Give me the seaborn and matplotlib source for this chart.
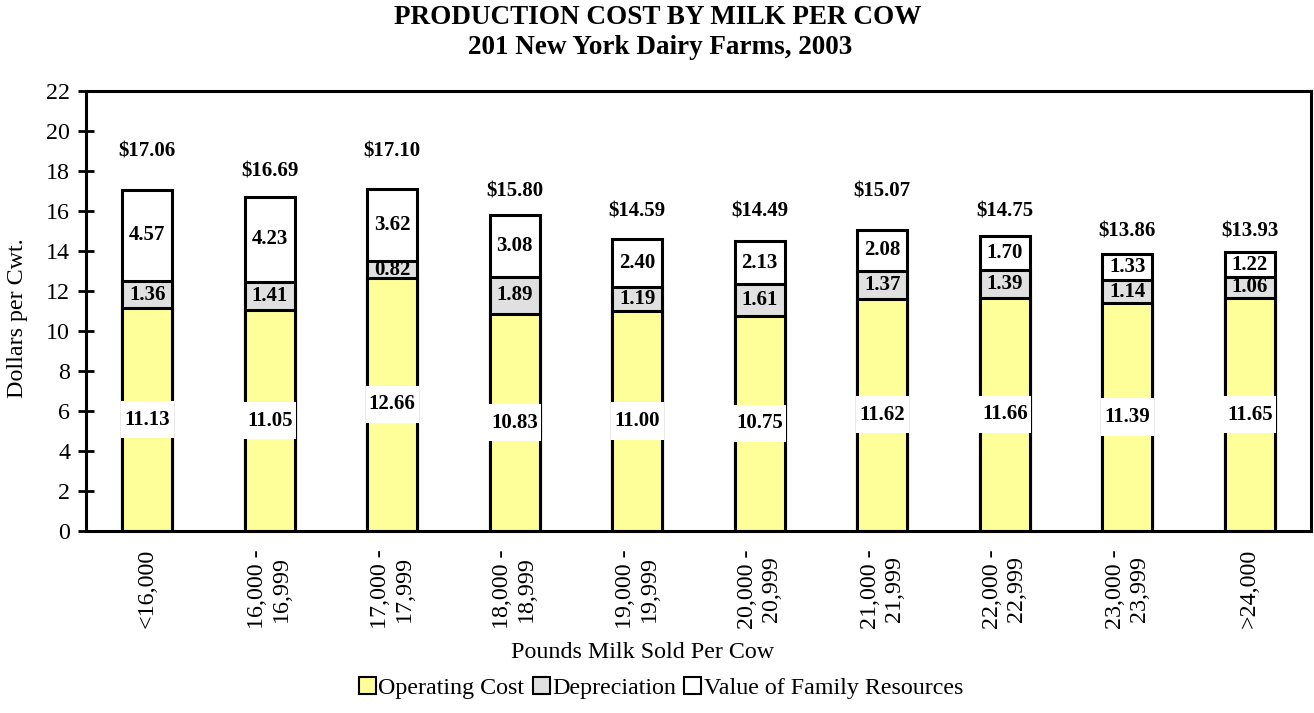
import numpy as np
import pandas as pd
import matplotlib
matplotlib.use("Agg")
import matplotlib.pyplot as plt
from matplotlib.patches import Patch, Rectangle
import seaborn as sns

categories = ["<16,000", "16,000 -\n16,999", "17,000 -\n17,999", "18,000 -\n18,999",
              "19,000 -\n19,999", "20,000 -\n20,999", "21,000 -\n21,999",
              "22,000 -\n22,999", "23,000 -\n23,999", ">24,000"]
operating = [11.13, 11.05, 12.66, 10.83, 11.00, 10.75, 11.62, 11.66, 11.39, 11.65]
depreciation = [1.36, 1.41, 0.82, 1.89, 1.19, 1.61, 1.37, 1.39, 1.14, 1.06]
family = [4.57, 4.23, 3.62, 3.08, 2.40, 2.13, 2.08, 1.70, 1.33, 1.22]
totals = [17.06, 16.69, 17.10, 15.80, 14.59, 14.49, 15.07, 14.75, 13.86, 13.93]
series_names = ["Operating Cost", "Depreciation", "Value of Family Resources"]
yticks = list(range(0, 23, 2))

sns.set_theme(style="white")
plt.rcParams["font.family"] = ["Liberation Serif", "DejaVu Serif"]
plt.rcParams["text.color"] = "black"
plt.rcParams["xtick.color"] = "black"
plt.rcParams["ytick.color"] = "black"
plt.rcParams["axes.labelcolor"] = "black"

op = np.array(operating)
dep = np.array(depreciation)
fam = np.array(family)
df = pd.DataFrame({"cat": categories, "op": op, "opdep": op + dep, "all": op + dep + fam})

fig = plt.figure(figsize=(13.14, 7.13), dpi=100)
ax = fig.add_axes([86 / 1314, 1 - 531 / 713, (1311 - 86) / 1314, (531 - 91) / 713])

W = 0.41
colors = ["#FFFF99", "#E0E0E0", "#FFFFFF"]
edge = dict(edgecolor="black", linewidth=2.2)
sns.barplot(data=df, x="cat", y="all", color=colors[2], saturation=1, width=W, ax=ax, **edge)
sns.barplot(data=df, x="cat", y="opdep", color=colors[1], saturation=1, width=W, ax=ax, **edge)
sns.barplot(data=df, x="cat", y="op", color=colors[0], saturation=1, width=W, ax=ax, **edge)

lab_kw = dict(ha="center", va="center", fontsize=15, fontweight="bold", color="black", zorder=6)
for i in range(len(categories)):
    yc = op[i] / 2
    ax.add_patch(Rectangle((i - 0.215, yc - 0.93), 0.43, 1.86, facecolor="white",
                           edgecolor="none", zorder=5))
    ax.text(i, yc, f"{op[i]:.2f}", **lab_kw)
    ax.text(i, op[i] + dep[i] / 2, f"{dep[i]:.2f}", **lab_kw)
    ax.text(i, op[i] + dep[i] + fam[i] / 2, f"{fam[i]:.2f}", **lab_kw)
    ax.text(i, np.floor(totals[i]) + 2.0, f"${totals[i]:.2f}", **lab_kw)

FS = 17.3
ax.set_ylim(0, 22)
ax.set_xlim(-0.5, len(categories) - 0.5)
ax.set_yticks(yticks)
ax.set_yticklabels([str(t) for t in yticks], fontsize=FS)
ax.set_xticks(np.arange(-0.5, len(categories), 1.0))
ax.set_xticklabels([])
ax.set_xticks(np.arange(len(categories)), minor=True)
ax.set_xticklabels(categories, minor=True, rotation=90, fontsize=FS,
                   multialignment="center", va="top", ha="center", linespacing=1.2)
ax.tick_params(axis="x", which="minor", length=0, pad=13)
ax.tick_params(axis="x", which="major", direction="inout", length=11, width=2, color="black")
ax.tick_params(axis="y", which="major", direction="inout", length=11, width=2, color="black",
               pad=6, left=True)
ax.set_xlabel("")
ax.set_ylabel("")
for s in ax.spines.values():
    s.set_visible(True)
    s.set_color("black")
    s.set_linewidth(2.2)

fig.text(658 / 1314, 1 - 18 / 713, "PRODUCTION COST BY MILK PER COW", ha="center", va="center",
         fontsize=19.5, fontweight="bold")
fig.text(660 / 1314, 1 - 47 / 713, "201 New York Dairy Farms, 2003", ha="center", va="center",
         fontsize=19.5, fontweight="bold")
fig.text(643 / 1314, 1 - 652 / 713, "Pounds Milk Sold Per Cow", ha="center", va="center",
         fontsize=FS)
fig.text(18 / 1314, 1 - 318 / 713, "Dollars per Cwt.", ha="center", va="center",
         rotation=90, fontsize=FS)

handles = [Patch(facecolor=c, edgecolor="black", linewidth=1.5) for c in colors]
fig.legend(handles, series_names, loc="center", bbox_to_anchor=(661 / 1314, 1 - 688 / 713),
           ncol=3, frameon=False, fontsize=FS, handlelength=0.7, handleheight=0.7,
           handletextpad=0.1, columnspacing=0.35, borderaxespad=0)

fig.savefig("out.png", dpi=100)
